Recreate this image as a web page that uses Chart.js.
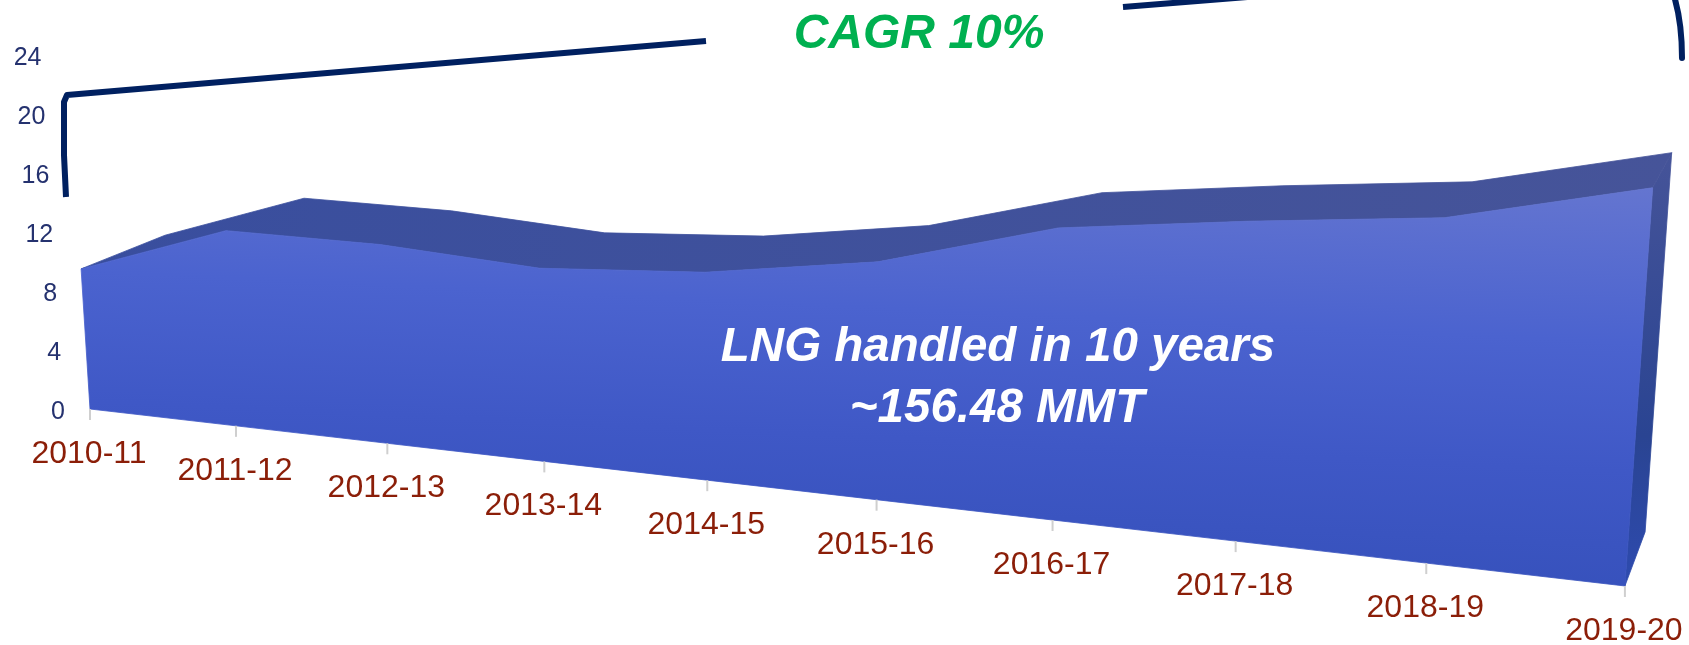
<!DOCTYPE html>
<html>
<head>
<meta charset="utf-8">
<title>LNG handled</title>
<script src="https://cdn.jsdelivr.net/npm/chart.js@4"></script>
<style>
    html, body { margin: 0; padding: 0; background: #fff; }
    #wrap { width: 1689px; height: 645px; }
</style>
</head>
<body>
<div id="wrap"><canvas id="graphCanvas1"></canvas></div>
<script>
var categories = ['2010-11', '2011-12', '2012-13', '2013-14', '2014-15', '2015-16', '2016-17', '2017-18', '2018-19', '2019-20'];
var lngHandled = [9.5, 13.0, 13.0, 12.4, 13.1, 14.7, 17.7, 19.0, 20.1, 22.7];
var yTicks = [0, 4, 8, 12, 16, 20, 24];
var centerNote = ['LNG handled in 10 years', '~156.48 MMT'];
var cagrNote = 'CAGR 10%';

var FONT = '"Liberation Sans", Arial, sans-serif';

// the original is a tilted 3D area: category + value -> position on the flat axes
function project(i, value, back) {
    var w = 1 / (1 - 0.01768 * i);
    var xb = i * w;
    var y = -1.121 * xb + value * w;
    var x = xb + (xb - 5.11) * 0.00128 * value * w;
    if (back) {
        var dx = 0.583 - 0.0413 * x;
        var dy = 3.095 - 0.0477 * y - 0.36 * (1 - i / 9);
        x += dx;
        y += dy;
    }
    return {x: x, y: y};
}

var frontTop = [], backTop = [], frontBase = [];
for (var i in lngHandled) {
    frontTop.push(project(+i, lngHandled[i], false));
    backTop.push(project(+i, lngHandled[i], true));
    frontBase.push(project(+i, 0, false));
}
var last = lngHandled.length - 1;

function gradient(chart, x0, y0, x1, y1, stops) {
    var g = chart.ctx.createLinearGradient(x0, y0, x1, y1);
    stops.forEach(function(s) { g.addColorStop(s[0], s[1]); });
    return g;
}

// fills each dataset as a closed face from its points
var faceFill = {
    id: 'faceFill',
    beforeDatasetDraw: function(chart, args) {
        var pts = args.meta.data, ctx = chart.ctx;
        ctx.save();
        ctx.beginPath();
        pts.forEach(function(p, n) {
            if (n === 0) ctx.moveTo(p.x, p.y); else ctx.lineTo(p.x, p.y);
        });
        ctx.closePath();
        ctx.fillStyle = args.meta.dataset.options.backgroundColor;
        ctx.fill();
        // thin stroke in the same colour hides the seam between faces
        ctx.strokeStyle = ctx.fillStyle;
        ctx.lineWidth = 0.8;
        ctx.stroke();
        ctx.restore();
    }
};

var axisLabels = {
    id: 'axisLabels',
    afterDraw: function(chart) {
        var ctx = chart.ctx, xs = chart.scales.x, ys = chart.scales.y;
        ctx.save();

        // value axis leans inwards going up
        ctx.font = '25px ' + FONT;
        ctx.fillStyle = '#25326f';
        ctx.textAlign = 'right';
        ctx.textBaseline = 'middle';
        yTicks.forEach(function(t) {
            ctx.fillText(String(t), 65 - t * 0.98, ys.getPixelForValue(t) + 3);
        });

        // category ticks and labels follow the slanted base
        categories.forEach(function(c, n) {
            var px = xs.getPixelForValue(frontBase[n].x);
            var py = ys.getPixelForValue(frontBase[n].y);
            ctx.fillStyle = '#cfcfcf';
            ctx.fillRect(px - 1, py, 2, 11);
            ctx.font = '32px ' + FONT;
            ctx.fillStyle = '#8b1e08';
            ctx.textAlign = 'center';
            ctx.fillText(c, px - 1, py + 45);
        });

        ctx.font = 'italic bold 47.5px ' + FONT;
        ctx.fillStyle = '#ffffff';
        ctx.fillText(centerNote[0], 998, 348);
        ctx.fillText(centerNote[1], 997, 409);

        ctx.font = 'italic bold 48px ' + FONT;
        ctx.fillStyle = '#00b050';
        ctx.fillText(cagrNote, 919, 35);

        // CAGR bracket
        ctx.strokeStyle = '#002060';
        ctx.lineWidth = 6;
        ctx.lineJoin = 'round';
        ctx.lineCap = 'butt';
        ctx.beginPath();
        ctx.moveTo(706, 41);
        ctx.lineTo(67, 95);
        ctx.lineTo(64, 102);
        ctx.lineTo(64, 155);
        ctx.lineTo(66, 197);
        ctx.stroke();
        ctx.beginPath();
        ctx.moveTo(1123, 7);
        ctx.lineTo(1260, -4);
        ctx.stroke();
        ctx.lineCap = 'round';
        ctx.beginPath();
        ctx.moveTo(1674, -4);
        ctx.quadraticCurveTo(1682, 22, 1682, 58);
        ctx.stroke();
        ctx.restore();
    }
};

new Chart(document.getElementById('graphCanvas1'), {
    type: 'line',
    data: {
        datasets: [
            {
                label: 'front',
                data: frontTop.concat(frontBase.slice().reverse()),
                backgroundColor: function(c) {
                    return gradient(c.chart, 1250, 170, 1230, 600, [[0, '#6475d0'], [0.36, '#4b63cf'], [0.66, '#3f58c6'], [1, '#3550ba']]);
                }
            },
            {
                label: 'top',
                data: frontTop.concat(backTop.slice().reverse()),
                backgroundColor: function(c) {
                    return gradient(c.chart, 80, 0, 1670, 0, [[0, '#394e9e'], [1, '#465499']]);
                }
            },
            {
                label: 'side',
                data: [frontTop[last], backTop[last], project(last, 0, true), frontBase[last]],
                backgroundColor: function(c) {
                    return gradient(c.chart, 0, 150, 0, 590, [[0, '#465499'], [0.65, '#2a4492'], [1, '#2e4bb0']]);
                }
            }
        ]
    },
    options: {
        responsive: true,
        maintainAspectRatio: false,
        animation: false,
        layout: {padding: 0},
        elements: {
            point: {radius: 0, hoverRadius: 0},
            line: {borderWidth: 0, tension: 0}
        },
        plugins: {
            legend: {display: false},
            tooltip: {enabled: false}
        },
        scales: {
            x: {type: 'linear', display: false, min: -0.6276, max: 11.15},
            y: {type: 'linear', display: false, min: -16, max: 27.73, ticks: {stepSize: 4}}
        }
    },
    plugins: [faceFill, axisLabels]
});
</script>
</body>
</html>
